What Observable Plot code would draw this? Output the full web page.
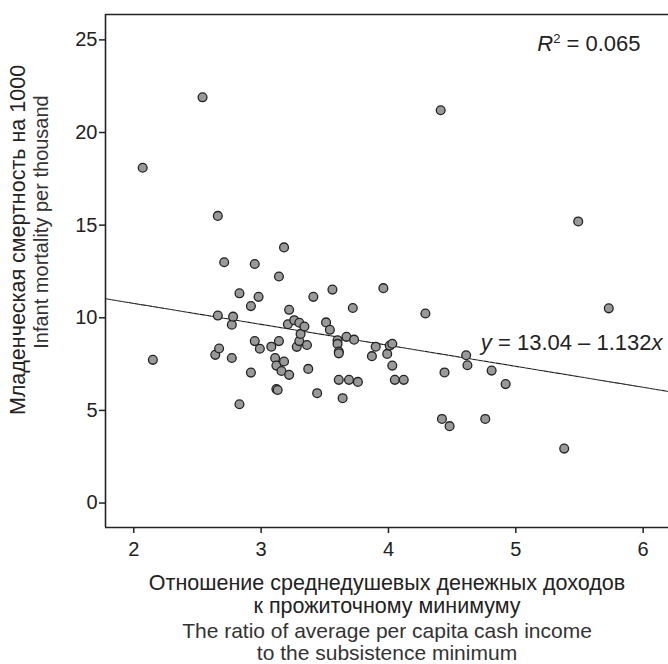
<!DOCTYPE html>
<html>
<head>
<meta charset="utf-8">
<script src="https://cdn.jsdelivr.net/npm/d3@7"></script>
<script src="https://cdn.jsdelivr.net/npm/@observablehq/plot@0.6"></script>
<style>
  html, body { margin: 0; padding: 0; background: #fff; }
  #chart svg { display: block; }
</style>
</head>
<body>
<div id="chart"></div>
<script>
// Ratio of average per capita cash income to the subsistence minimum
const incomeRatio = [
  2.07, 2.15, 2.54, 2.64, 2.66, 2.66, 2.67, 2.71, 2.77, 2.77,
  2.78, 2.83, 2.83, 2.92, 2.92, 2.95, 2.95, 2.98, 2.99, 3.08,
  3.11, 3.12, 3.12, 3.13, 3.14, 3.14, 3.16, 3.18, 3.18, 3.21,
  3.22, 3.22, 3.26, 3.28, 3.30, 3.30, 3.31, 3.34, 3.36, 3.37,
  3.41, 3.44, 3.51, 3.54, 3.56, 3.60, 3.60, 3.61, 3.61, 3.61,
  3.64, 3.67, 3.69, 3.72, 3.73, 3.76, 3.87, 3.90, 3.96, 3.99,
  4.01, 4.03, 4.03, 4.05, 4.12, 4.29, 4.41, 4.42, 4.44, 4.48,
  4.61, 4.62, 4.76, 4.81, 4.92, 5.38, 5.49, 5.73
];
// Infant mortality per thousand
const infantMortality = [
  18.1, 7.73, 21.9, 8.0, 15.5, 10.12, 8.34, 13.0, 9.63, 7.83,
  10.06, 11.32, 5.33, 10.63, 7.04, 12.9, 8.74, 11.13, 8.33, 8.44,
  7.83, 7.42, 6.15, 6.1, 12.23, 8.74, 7.13, 13.8, 7.64, 9.65,
  10.43, 6.92, 9.87, 8.43, 9.73, 8.74, 9.13, 9.53, 8.53, 7.24,
  11.13, 5.93, 9.75, 9.35, 11.52, 8.79, 8.59, 8.18, 8.08, 6.65,
  5.66, 8.97, 6.65, 10.53, 8.82, 6.54, 7.93, 8.44, 11.6, 8.05,
  8.5, 8.6, 7.42, 6.65, 6.65, 10.23, 21.2, 4.54, 7.05, 4.15,
  7.98, 7.44, 4.54, 7.15, 6.42, 2.94, 15.2, 10.51
];
const xTicks = [2, 3, 4, 5, 6];
const yTicks = [0, 5, 10, 15, 20, 25];
const xDomain = [1.778, 6.199];
const yDomain = [-1.32, 26.37];
// Regression y = 13.04 – 1.132x, R² = 0.065
const regIntercept = 13.04;
const regSlope = -1.132;
const r2Label = "R2 = 0.065";
const eqLabel = "y = 13.04 – 1.132x";
const yTitleRu = "Младенческая смертность на 1000";
const yTitleEn = "Infant mortality per thousand";
const xTitleLines = [
  "Отношение среднедушевых денежных доходов",
  "к прожиточному минимуму",
  "The ratio of average per capita cash income",
  "to the subsistence minimum"
];

const points = incomeRatio.map((x, i) => ({x, y: infantMortality[i]}));
const regLine = xDomain.map(x => ({x, y: regIntercept + regSlope * x}));

const FONT = "'Liberation Sans', Arial, Helvetica, sans-serif";
const INK = "#222";
const INK2 = "#333";

const plot = Plot.plot({
  width: 668,
  height: 664,
  marginLeft: 105,
  marginRight: 0,
  marginTop: 14,
  marginBottom: 137,
  style: {fontFamily: FONT, fontSize: "20px", color: INK, background: "#fff"},
  x: {domain: xDomain, ticks: xTicks, label: null},
  y: {domain: yDomain, ticks: yTicks, label: null},
  marks: [
    Plot.axisX({ticks: xTicks, tickSize: 6, tickPadding: 8, fontSize: 20, stroke: INK, strokeWidth: 1.5, tickFormat: d => String(d)}),
    Plot.axisY({ticks: yTicks, tickSize: 6, tickPadding: 2, fontSize: 20, stroke: INK, strokeWidth: 1.5, tickFormat: d => String(d)}),
    Plot.ruleX([xDomain[0]], {stroke: INK, strokeWidth: 1.6}),
    Plot.ruleY([yDomain[0], yDomain[1]], {stroke: INK, strokeWidth: 1.6}),
    Plot.line(regLine, {x: "x", y: "y", stroke: INK, strokeWidth: 1.1, strokeDasharray: "5,1"}),
    Plot.dot(points, {x: "x", y: "y", r: 4.4, fill: "#999", stroke: INK, strokeWidth: 1.3}),
    Plot.text([r2Label], {frameAnchor: "top-right", lineAnchor: "middle", dx: -28, dy: 29, textAnchor: "end", fontSize: 22, fill: INK}),
    Plot.text([eqLabel], {frameAnchor: "top-right", lineAnchor: "middle", dx: -6, dy: 328, textAnchor: "end", fontSize: 22, fill: INK}),
    Plot.text([yTitleRu], {frameAnchor: "left", textAnchor: "middle", dx: -87, dy: -31, rotate: -90, fontSize: 21.5, fill: INK}),
    Plot.text([yTitleEn], {frameAnchor: "left", textAnchor: "middle", dx: -64, dy: -49, rotate: -90, fontSize: 20, fill: INK2}),
    Plot.text([xTitleLines[0]], {frameAnchor: "bottom", dy: 62, fontSize: 21.5, fill: INK}),
    Plot.text([xTitleLines[1]], {frameAnchor: "bottom", dy: 85, fontSize: 21.5, fill: INK}),
    Plot.text([xTitleLines[2]], {frameAnchor: "bottom", dy: 110, fontSize: 21, fill: INK2}),
    Plot.text([xTitleLines[3]], {frameAnchor: "bottom", dy: 132, fontSize: 21, fill: INK2})
  ]
});

// Rich formatting (italic variables, superscript) for the annotations
d3.select(plot).selectAll("text").each(function() {
  const t = d3.select(this);
  const s = this.textContent;
  if (s === r2Label) {
    t.text(null);
    t.append("tspan").attr("font-style", "italic").text("R");
    t.append("tspan").attr("font-size", "13").attr("dy", "-0.55em").text("2");
    t.append("tspan").attr("dy", "0.33em").text(" = 0.065");
  } else if (s === eqLabel) {
    t.text(null);
    t.append("tspan").attr("font-style", "italic").text("y");
    t.append("tspan").text(" = 13.04 – 1.132");
    t.append("tspan").attr("font-style", "italic").text("x");
  }
});

document.getElementById("chart").appendChild(plot);
</script>
</body>
</html>
